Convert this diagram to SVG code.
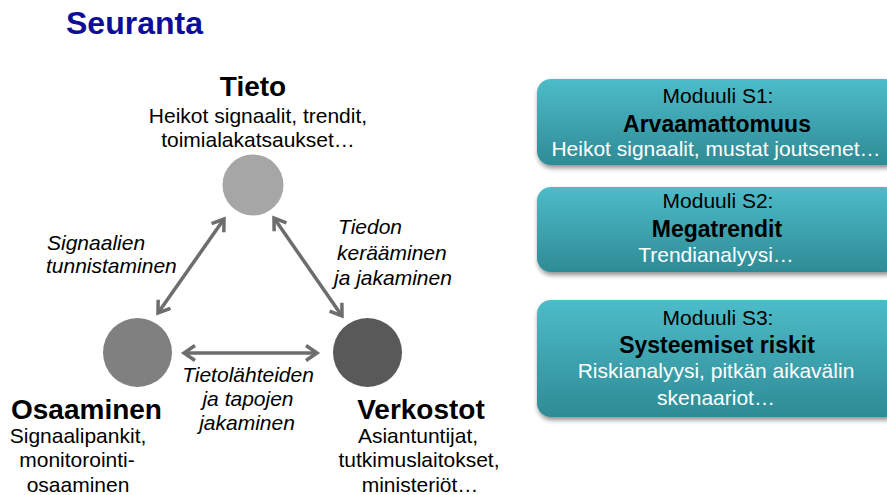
<svg xmlns="http://www.w3.org/2000/svg" width="887" height="495" viewBox="0 0 887 495">
<style>
text{font-family:"Liberation Sans",Arial,sans-serif;fill:#000}
.t{font-size:28px;font-weight:bold}
.s{font-size:21px;text-anchor:middle}
.i{font-size:21px;font-style:italic}
.c{text-anchor:middle}
.m{font-size:21px;text-anchor:middle}
.mb{font-size:23px;font-weight:bold;text-anchor:middle}
.w{font-size:21px;text-anchor:middle;fill:#fff}
.arr{stroke:#6d6d6d;stroke-width:3.5;fill:none;marker-start:url(#ah);marker-end:url(#ah)}
.box{fill:url(#g);filter:url(#sh)}
</style>
<defs>
<linearGradient id="g" x1="0" y1="0" x2="0" y2="1">
<stop offset="0" stop-color="#4dbcc9"/>
<stop offset="1" stop-color="#2e8b95"/>
</linearGradient>
<filter id="sh" x="-10%" y="-20%" width="120%" height="150%">
<feGaussianBlur in="SourceAlpha" stdDeviation="2.5"/>
<feOffset dx="1" dy="3" result="b"/>
<feComponentTransfer><feFuncA type="linear" slope="0.45"/></feComponentTransfer>
<feMerge><feMergeNode/><feMergeNode in="SourceGraphic"/></feMerge>
</filter>
<marker id="ah" markerUnits="userSpaceOnUse" viewBox="-14 -10 16 20" refX="0" refY="0" markerWidth="16" markerHeight="20" orient="auto-start-reverse" overflow="visible">
<path d="M-11,-7.5 L0,0 L-11,7.5" fill="none" stroke="#6d6d6d" stroke-width="3.5" stroke-linejoin="miter"/>
</marker>
</defs>
<rect width="887" height="495" fill="#fff"/>
<text x="66" y="34" style="font-size:32px;font-weight:bold;fill:#0d0d99">Seuranta</text>

<g id="connectors">
<line class="arr" x1="158" y1="313" x2="224" y2="219"/>
<line class="arr" x1="274" y1="218" x2="342" y2="316"/>
<line class="arr" x1="184" y1="353" x2="317" y2="353"/>
<text class="i" x="47" y="250">Signaalien</text>
<text class="i" x="46" y="273">tunnistaminen</text>
<text class="i" x="338" y="234">Tiedon</text>
<text class="i" x="337" y="260">kerääminen</text>
<text class="i" x="334" y="285">ja jakaminen</text>
<text class="i c" x="248" y="382">Tietolähteiden</text>
<text class="i c" x="248" y="406">ja tapojen</text>
<text class="i c" x="247" y="430">jakaminen</text>
</g>

<g id="tieto">
<circle cx="253" cy="185" r="30.5" fill="#a6a6a6"/>
<text class="t c" x="253" y="96">Tieto</text>
<text class="s" x="258" y="123">Heikot signaalit, trendit,</text>
<text class="s" x="258" y="147">toimialakatsaukset…</text>
</g>

<g id="osaaminen">
<circle cx="137.5" cy="352.5" r="34.5" fill="#808080"/>
<text class="t" x="11" y="419">Osaaminen</text>
<text class="s" x="78" y="443">Signaalipankit,</text>
<text class="s" x="77" y="467">monitorointi-</text>
<text class="s" x="78" y="492">osaaminen</text>
</g>

<g id="verkostot">
<circle cx="367.5" cy="352.5" r="34.5" fill="#595959"/>
<text class="t c" x="421" y="419">Verkostot</text>
<text class="s" x="418" y="443">Asiantuntijat,</text>
<text class="s" x="419" y="467">tutkimuslaitokset,</text>
<text class="s" x="420" y="492">ministeriöt…</text>
</g>

<g id="s1">
<rect class="box" x="537" y="79" width="362" height="86" rx="14"/>
<text class="m" x="718" y="103">Moduuli S1:</text>
<text class="mb" x="717" y="132">Arvaamattomuus</text>
<text class="w" x="716" y="156">Heikot signaalit, mustat joutsenet…</text>
</g>

<g id="s2">
<rect class="box" x="537" y="187" width="362" height="85" rx="14"/>
<text class="m" x="718" y="208">Moduuli S2:</text>
<text class="mb" x="717" y="237">Megatrendit</text>
<text class="w" x="716" y="262">Trendianalyysi…</text>
</g>

<g id="s3">
<rect class="box" x="537" y="300" width="362" height="117" rx="14"/>
<text class="m" x="718" y="325">Moduuli S3:</text>
<text class="mb" x="717" y="353">Systeemiset riskit</text>
<text class="w" x="716" y="378">Riskianalyysi, pitkän aikavälin</text>
<text class="w" x="716" y="405">skenaariot…</text>
</g>
</svg>
